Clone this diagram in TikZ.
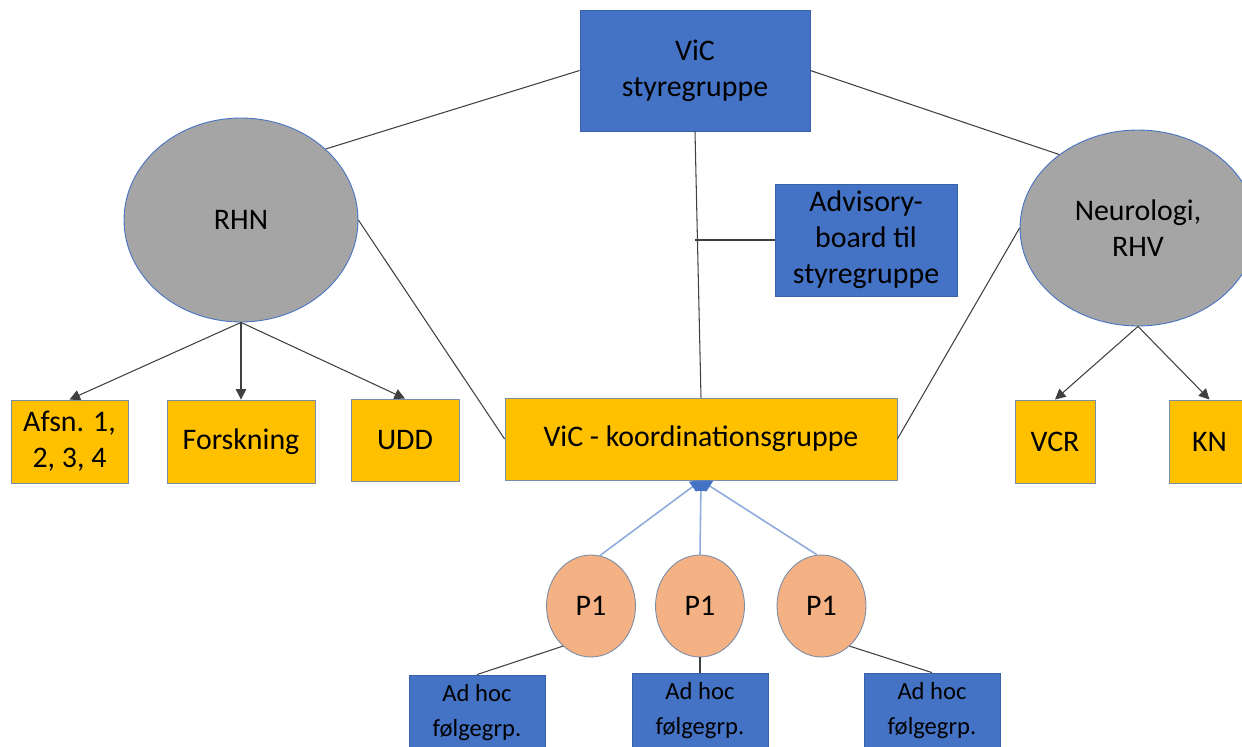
\documentclass[tikz,border=0pt]{standalone}
\usepackage{fontspec}
\setmainfont{Carlito}
\usetikzlibrary{arrows.meta,shapes.geometric}

\definecolor{vicblue}{HTML}{4472C4}
\definecolor{vicyellow}{HTML}{FFC000}
\definecolor{vicgrey}{HTML}{A5A5A5}
\definecolor{viorange}{HTML}{F4B183}
\definecolor{boxedge}{HTML}{7A8CA8}
\definecolor{linegrey}{HTML}{404040}
\definecolor{lineblue}{HTML}{8FAADC}

\begin{document}
\begin{tikzpicture}[
        x=0.02cm, y=-0.02cm,
        bluebox/.style={rectangle, draw=vicblue!85!black, fill=vicblue, line width=0.5pt, inner sep=0pt, align=center, font=\fontsize{17}{20.5}\selectfont},
        yellowbox/.style={rectangle, draw=boxedge, fill=vicyellow, line width=0.5pt, inner sep=0pt, align=center, font=\fontsize{17}{20.5}\selectfont},
        greyoval/.style={ellipse, draw=vicblue, fill=vicgrey, line width=0.5pt, inner sep=0pt, align=center, font=\fontsize{17}{20.5}\selectfont},
        projoval/.style={ellipse, draw=boxedge, fill=viorange, line width=0.5pt, inner sep=0pt, minimum width=1.78cm, minimum height=2.04cm, font=\fontsize{17}{20.5}\selectfont},
        adhocbox/.style={bluebox, minimum width=2.72cm, minimum height=1.5cm, font=\fontsize{14}{20}\selectfont},
        link/.style={draw=linegrey, line width=0.6pt},
        arrow/.style={link, -{Triangle[length=6pt,width=6pt]}},
        projarrow/.style={draw=lineblue, line width=0.9pt, -{Triangle[length=6pt,width=7pt,color=vicblue]}}
    ]

    \useasboundingbox (0,0) rectangle (1242,747);

    % ==========================================
    % TOP: styregruppe + advisory board
    % ==========================================
    \node[bluebox, minimum width=4.6cm, minimum height=2.42cm] (sty) at (695,70.5) {ViC\\styregruppe};
    \node[bluebox, minimum width=3.64cm, minimum height=2.24cm] (adv) at (866,240) {Advisory-\\board til\\styregruppe};

    % ==========================================
    % REGIONS: RHN and RHV
    % ==========================================
    \node[greyoval, minimum width=4.68cm, minimum height=4.08cm] (rhn) at (241,220) {RHN};
    \node[greyoval, minimum width=4.72cm, minimum height=3.92cm] (neu) at (1138,228) {Neurologi,\\RHV};

    % ==========================================
    % MIDDLE ROW
    % ==========================================
    \node[yellowbox, minimum width=2.34cm, minimum height=1.66cm] (afsn) at (69.5,441.5) {Afsn. 1,\\2, 3, 4};
    \node[yellowbox, minimum width=2.96cm, minimum height=1.66cm] (forsk) at (241,441.5) {Forskning};
    \node[yellowbox, minimum width=2.16cm, minimum height=1.64cm] (udd) at (405,440) {UDD};
    \node[yellowbox, minimum width=7.84cm, minimum height=1.64cm] (koord) at (701,439) {ViC - koordinationsgruppe};
    \node[yellowbox, minimum width=1.6cm, minimum height=1.66cm] (vcr) at (1055,441.5) {VCR};
    \node[yellowbox, minimum width=1.62cm, minimum height=1.66cm] (kn) at (1209.5,441.5) {KN};

    % ==========================================
    % PROJECTS + ad hoc groups
    % ==========================================
    \node[projoval] (p1a) at (591,606) {P1};
    \node[projoval] (p1b) at (700,606) {P1};
    \node[projoval] (p1c) at (821.5,606) {P1};

    \node[adhocbox] (ada) at (477,712.5) {Ad hoc\\følgegrp.};
    \node[adhocbox] (adb) at (700,710.5) {Ad hoc\\følgegrp.};
    \node[adhocbox] (adc) at (932,710.5) {Ad hoc\\følgegrp.};

    % connectors
    \draw[link] (sty.west) -- (rhn.40);
    \draw[link] (sty.east) -- (neu.137);
    \draw[link] (sty.south) -- (koord.north);
    \draw[link] (adv.west) -- (adv.west -| sty.south);
    \draw[link] (rhn.east) -- (koord.west);
    \draw[link] (neu.west) -- (koord.east);

    \draw[arrow] (rhn.south) -- (afsn.north);
    \draw[arrow] (rhn.south) -- (forsk.north);
    \draw[arrow] (rhn.south) -- (udd.north);
    \draw[arrow] (neu.south) -- (vcr.north);
    \draw[arrow] (neu.south) -- (kn.north);

    \draw[projarrow] (p1a.80) -- (koord.south);
    \draw[projarrow] (p1b.north) -- (koord.south);
    \draw[projarrow] (p1c.95) -- (koord.south);

    \draw[link] (p1a.235) -- (ada.north);
    \draw[link] (p1b.south) -- (adb.north);
    \draw[link] (p1c.305) -- (adc.north);

\end{tikzpicture}
\end{document}
